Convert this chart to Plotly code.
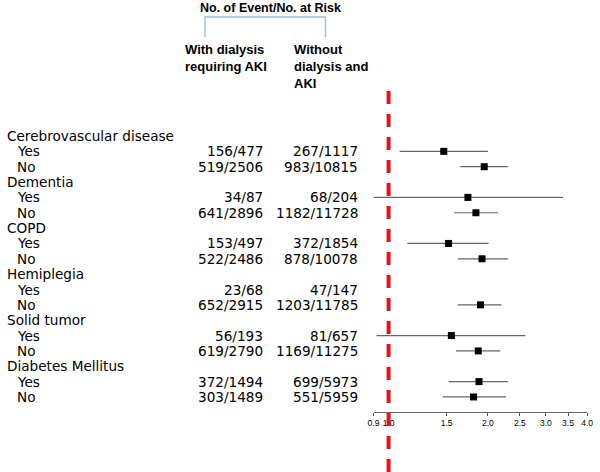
import math
import plotly.graph_objects as go

# ---- data ----
groups = ["Cerebrovascular disease", "Dementia", "COPD", "Hemiplegia", "Solid tumor", "Diabetes Mellitus"]
subgroups = ["Yes", "No"]
with_aki = ["156/477", "519/2506", "34/87", "641/2896", "153/497", "522/2486",
            "23/68", "652/2915", "56/193", "619/2790", "372/1494", "303/1489"]
without_aki = ["267/1117", "983/10815", "68/204", "1182/11728", "372/1854", "878/10078",
               "47/147", "1203/11785", "81/657", "1169/11275", "699/5973", "551/5959"]
hr = [1.47, 1.95, 1.74, 1.84, 1.52, 1.92, None, 1.90, 1.55, 1.87, 1.88, 1.81]
ci_lo = [1.08, 1.65, 0.89, 1.58, 1.14, 1.62, None, 1.62, 0.92, 1.60, 1.52, 1.46]
ci_hi = [2.00, 2.30, 3.38, 2.15, 2.01, 2.30, None, 2.20, 2.60, 2.18, 2.30, 2.27]
tick_vals = [0.9, 1.0, 1.5, 2.0, 2.5, 3.0, 3.5, 4.0]
tick_text = ["0.9", "1.0", "1.5", "2.0", "2.5", "3.0", "3.5", "4.0"]
header_title = "No. of Event/No. at Risk"
col1_header = "With dialysis<br>requiring AKI"
col2_header = "Without<br>dialysis and<br>AKI"

W, H = 600, 472
ROW0_PX, ROW_PX = 136, 15.35
FONT = "DejaVu Sans, sans-serif"
HFONT = "Liberation Sans, Arial, sans-serif"
TXT = 13.6

# row positions
sub_rows, sub_labels = [], []
header_rows = []
for g, name in enumerate(groups):
    header_rows.append(3 * g)
    for s, lab in enumerate(subgroups):
        sub_rows.append(3 * g + 1 + s)
        sub_labels.append(lab)

xs, ys, ep, em = [], [], [], []
for i, r in enumerate(sub_rows):
    if hr[i] is None:
        continue
    xs.append(hr[i]); ys.append(r)
    ep.append(ci_hi[i] - hr[i]); em.append(hr[i] - ci_lo[i])

fig = go.Figure()
fig.add_trace(go.Scatter(
    x=xs, y=ys, mode="markers", cliponaxis=False,
    marker=dict(symbol="square", size=7, color="black"),
    error_x=dict(type="data", symmetric=False, array=ep, arrayminus=em,
                 color="#666666", thickness=1.2, width=0),
    showlegend=False, hoverinfo="skip"))

ann = []
for g, name in enumerate(groups):
    ann.append(dict(x=0, xref="paper", y=header_rows[g], yref="y", text=name,
                    xanchor="left", yanchor="middle", showarrow=False, borderpad=0,
                    font=dict(size=TXT, family=FONT, color="black")))
for i, r in enumerate(sub_rows):
    ann.append(dict(x=10 / W, xref="paper", y=r, yref="y", text=sub_labels[i],
                    xanchor="left", yanchor="middle", showarrow=False, borderpad=0,
                    font=dict(size=TXT, family=FONT, color="black")))
    ann.append(dict(x=263 / W, xref="paper", y=r, yref="y", text=with_aki[i],
                    xanchor="right", yanchor="middle", showarrow=False, borderpad=0,
                    font=dict(size=TXT, family=FONT, color="black")))
    ann.append(dict(x=360 / W, xref="paper", y=r, yref="y", text=without_aki[i],
                    xanchor="right", yanchor="middle", showarrow=False, borderpad=0,
                    font=dict(size=TXT, family=FONT, color="black")))

ann.append(dict(x=270 / W, xref="paper", y=1 - 8 / H, yref="paper", text="<b>" + header_title + "</b>",
                xanchor="center", yanchor="middle", showarrow=False,
                font=dict(size=12.5, family=HFONT, color="black")))
ann.append(dict(x=181 / W, xref="paper", y=1 - 40 / H, yref="paper", text="<b>" + col1_header + "</b>",
                xanchor="left", yanchor="top", showarrow=False, align="left",
                font=dict(size=13, family=HFONT, color="black")))
ann.append(dict(x=292 / W, xref="paper", y=1 - 40 / H, yref="paper", text="<b>" + col2_header + "</b>",
                xanchor="left", yanchor="top", showarrow=False, align="left",
                font=dict(size=13, family=HFONT, color="black")))

def px(x): return x / W
def py(y): return 1 - y / H

shapes = [
    dict(type="path", xref="paper", yref="paper",
         path=f"M {px(203)} {py(37)} L {px(203)} {py(17)} L {px(326)} {py(17)} L {px(326)} {py(37)}",
         line=dict(color="#9cc3de", width=1.5)),
    dict(type="line", xref="x", yref="paper", x0=1.0, x1=1.0, y0=0, y1=py(83),
         line=dict(color="#e8101a", width=4, dash="13px,10px")),
]

fig.update_layout(
    width=W, height=H, margin=dict(l=0, r=0, t=0, b=0),
    paper_bgcolor="white", plot_bgcolor="white",
    xaxis=dict(type="log", range=[math.log10(0.9), math.log10(4.0)],
               domain=[375 / W, 593 / W], anchor="free", position=(H - 412) / H,
               tickvals=tick_vals, ticktext=tick_text, ticks="outside", ticklen=3,
               tickcolor="#555555", showline=True, linecolor="#666666", linewidth=1,
               showgrid=False, zeroline=False,
               tickfont=dict(size=8.5, family=HFONT, color="black")),
    yaxis=dict(range=[(H - ROW0_PX) / ROW_PX, -ROW0_PX / ROW_PX], domain=[0, 1],
               visible=False, showgrid=False, zeroline=False),
    annotations=ann, shapes=shapes,
)

fig.write_html("out.html", config={"displayModeBar": False},
               post_script="document.body.style.margin='0';document.body.style.overflow='hidden';")
